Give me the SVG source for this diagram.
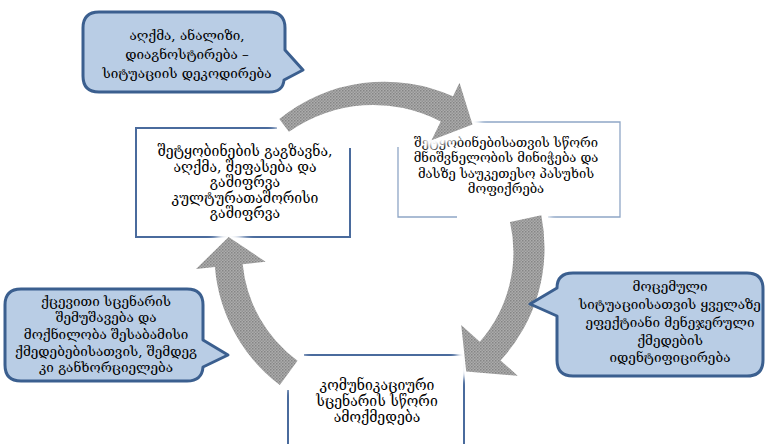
<svg xmlns="http://www.w3.org/2000/svg" width="766" height="444" viewBox="0 0 766 444">
<style>
.t{font-family:"DejaVu Serif","DejaVu Sans",serif;font-size:13.5px;fill:#000;text-anchor:middle}
.tb{font-size:14px}
.tc{font-size:13px}
.call{fill:#b9cde5;stroke:#3b5f8f;stroke-width:3;stroke-linejoin:round}
.bx{fill:none;stroke:#4a6b9d;stroke-width:2}
.bx2{fill:none;stroke:#8fa6c6;stroke-width:1.3}
.halo{fill:#fff;stroke:#fff;stroke-width:16;stroke-linejoin:round;filter:url(#soft)}
.arr{fill:url(#dots);filter:url(#edge)}
</style>
<defs>
<pattern id="dots" width="3" height="3" patternUnits="userSpaceOnUse">
<rect width="3" height="3" fill="#acacac"/>
<rect width="1.5" height="1.5" fill="#858585"/>
<rect x="1.5" y="1.5" width="1.5" height="1.5" fill="#939393"/>
</pattern>
<filter id="soft" x="-20%" y="-20%" width="140%" height="140%"><feGaussianBlur stdDeviation="3"/></filter>
<filter id="edge" x="-10%" y="-10%" width="120%" height="120%"><feGaussianBlur stdDeviation="0.7"/></filter>
</defs>

<g id="box-a">
<rect x="136" y="128" width="214" height="109" fill="#fff"/>
<path class="bx" d="M277,128 H136 V237 H350 V148"/>
<text class="t tb" x="245"><tspan x="245" y="156">შეტყობინების გაგზავნა,</tspan><tspan x="245" y="171.5">აღქმა, შეფასება და</tspan><tspan x="245" y="187">გაშიფრვა</tspan><tspan x="245" y="202.5">კულტურათაშორისი</tspan><tspan x="245" y="218">გაშიფრვა</tspan></text>
</g>

<g id="box-b">
<rect x="398" y="122" width="222" height="95" fill="#fff"/>
<path class="bx2" d="M467,122 H620 V217 H548 M457,217 H398 V147"/>
<text class="t tc" x="506"><tspan x="506" y="147">შეტყობინებისათვის სწორი</tspan><tspan x="506" y="162.3">მნიშვნელობის მინიჭება და</tspan><tspan x="506" y="177.6">მასზე საუკეთესო პასუხის</tspan><tspan x="506" y="192.9">მოფიქრება</tspan></text>
</g>

<g id="box-c">
<rect x="288" y="355" width="176" height="95" fill="#fff"/>
<path class="bx" d="M304,355 H464 V444 M288,390 V444"/>
<text class="t tb" x="377"><tspan x="377" y="390">კომუნიკაციური</tspan><tspan x="377" y="406">სცენარის სწორი</tspan><tspan x="377" y="422">ამოქმედება</tspan></text>
</g>

<g id="connectors">
<path class="halo" d="M279.3,119 A167,167 0 0 1 453,96.3 L459.5,82.8 L472.5,124.6 L431.5,140.3 L440.7,121.5 A146,146 0 0 0 288.9,131.8 Z"/>
<path class="halo" d="M541.3,215.3 A166,166 0 0 1 500.6,360.4 L517.7,375.8 L466.2,371.4 L461.2,324.9 L479.8,341.7 A136,136 0 0 0 510,221.9 Z"/>
<path class="halo" d="M279.8,385.1 A165,165 0 0 1 214.9,267.1 L196,269.1 L228.6,236.9 L265.6,261.8 L242.7,264.2 A136,136 0 0 0 297.5,360.8 Z"/>
<path class="arr" d="M279.3,119 A167,167 0 0 1 453,96.3 L459.5,82.8 L472.5,124.6 L431.5,140.3 L440.7,121.5 A146,146 0 0 0 288.9,131.8 Z"/>
<path class="arr" d="M541.3,215.3 A166,166 0 0 1 500.6,360.4 L517.7,375.8 L466.2,371.4 L461.2,324.9 L479.8,341.7 A136,136 0 0 0 510,221.9 Z"/>
<path class="arr" d="M279.8,385.1 A165,165 0 0 1 214.9,267.1 L196,269.1 L228.6,236.9 L265.6,261.8 L242.7,264.2 A136,136 0 0 0 297.5,360.8 Z"/>
</g>

<g id="callout-top">
<path class="call" d="M99,12 H269 Q285,12 285,28 V50 L303,70 L284,80 Q283,92 269,92 H99 Q83,92 83,76 V28 Q83,12 99,12 Z"/>
<text class="t" x="187"><tspan x="187" y="40">აღქმა, ანალიზი,</tspan><tspan x="187" y="59">დიაგნოსტირება –</tspan><tspan x="187" y="78">სიტუაციის დეკოდირება</tspan></text>
</g>

<g id="callout-right">
<path class="call" d="M573,273 H747 Q763,273 763,289 V360 Q763,376 747,376 H573 Q557,376 557,360 V316 L530,304 L557,288 Q557,273 573,273 Z"/>
<text class="t" x="670"><tspan x="670" y="291">მოცემული</tspan><tspan x="670" y="309">სიტუაციისათვის ყველაზე</tspan><tspan x="670" y="327">ეფექტიანი მენეჯერული</tspan><tspan x="670" y="345">ქმედების</tspan><tspan x="670" y="362">იდენტიფიცირება</tspan></text>
</g>

<g id="callout-left">
<path class="call" d="M21,289 H187 Q203,289 203,305 V340 L228,355 L203,367 Q202,381 187,381 H21 Q5,381 5,365 V305 Q5,289 21,289 Z"/>
<text class="t" x="106"><tspan x="106" y="306">ქცევითი სცენარის</tspan><tspan x="106" y="322">შემუშავება და</tspan><tspan x="106" y="339">მოქნილობა შესაბამისი</tspan><tspan x="106" y="356">ქმედებებისათვის, შემდეგ</tspan><tspan x="106" y="372">კი განხორციელება</tspan></text>
</g>
</svg>
